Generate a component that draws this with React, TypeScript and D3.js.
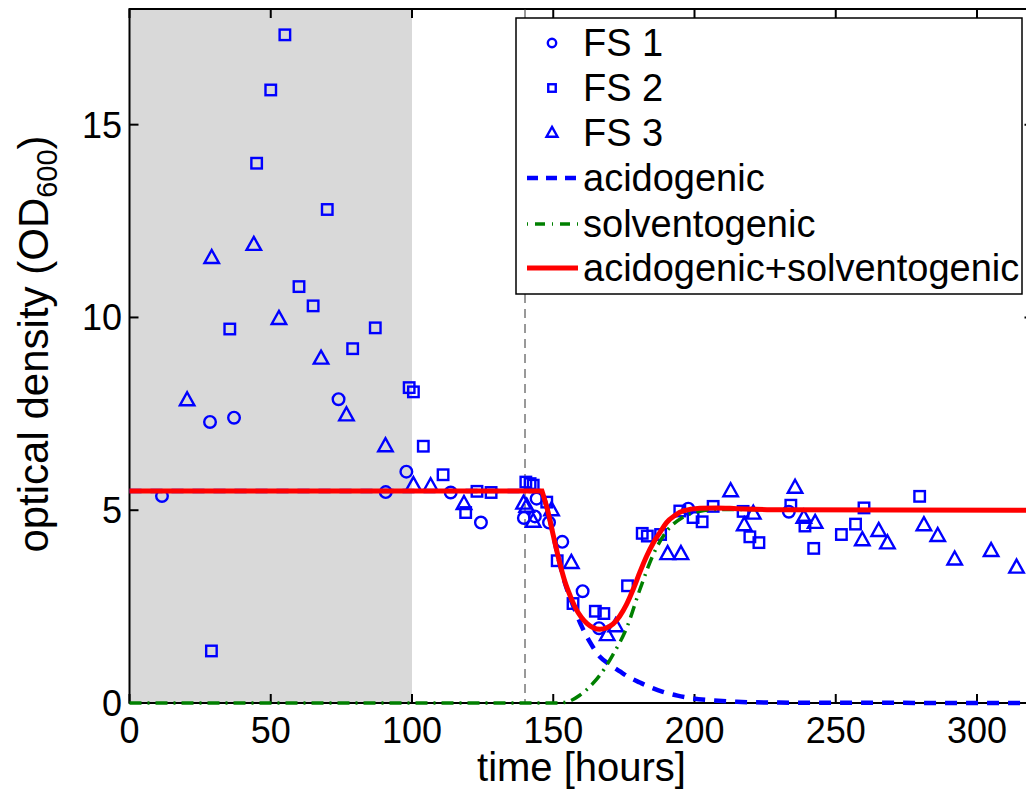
import React from "react";
import * as d3 from "d3";

// ---- data ----
const fs1Time = [11.5, 28.5, 37, 74, 90.7, 98, 113.7, 124.4, 139.6, 143.5, 144.1, 148.5, 153.2, 160.4, 166.2, 197.8, 233.4];
const fs1OD = [5.37, 7.29, 7.4, 7.88, 5.47, 6.0, 5.46, 4.68, 4.8, 4.84, 5.3, 4.68, 4.18, 2.9, 1.94, 5.04, 4.96];

const fs2Time = [29, 35.5, 45, 50, 55, 60, 65, 70, 79, 87, 99, 100.5, 104, 111, 119, 123, 128, 140.3, 141.8, 142.9, 147.7, 151.4, 157, 164.9, 167.9, 176.3, 181.5, 183.3, 188, 194.8, 199.5, 202.7, 206.6, 217.2, 219.6, 222.8, 234.1, 239.1, 242.2, 252, 257, 260, 279.7];
const fs2OD = [1.35, 9.7, 14.0, 15.9, 17.33, 10.8, 10.3, 12.8, 9.19, 9.73, 8.18, 8.07, 6.66, 5.92, 4.94, 5.49, 5.46, 5.73, 5.69, 5.65, 5.21, 3.69, 2.58, 2.38, 2.32, 3.04, 4.4, 4.33, 4.37, 4.98, 4.81, 4.7, 5.1, 4.97, 4.31, 4.16, 5.13, 4.59, 4.01, 4.37, 4.64, 5.06, 5.36];

const fs3Time = [20.4, 29.1, 44, 52.9, 67.8, 76.8, 90.6, 100.5, 106.6, 118.4, 139.5, 140.6, 142.9, 149.4, 156.4, 169.1, 172.1, 190.5, 195.2, 212.8, 217.6, 220.8, 235.6, 238.7, 242.7, 259.4, 265.2, 268.3, 281.2, 286.1, 292.1, 305, 314];
const fs3OD = [7.85, 11.54, 11.88, 9.96, 8.93, 7.46, 6.66, 5.65, 5.62, 5.16, 5.17, 5.09, 4.7, 5.0, 3.63, 1.76, 1.99, 3.86, 3.86, 5.49, 4.61, 4.91, 5.58, 4.8, 4.67, 4.22, 4.46, 4.14, 4.61, 4.33, 3.72, 3.94, 3.51];

const acidTime = [0, 146, 148, 150, 152, 154, 156, 158, 160, 163, 166.5, 170, 173.6, 177, 180.7, 185, 188.8, 194, 199.4, 206.5, 215, 230, 320];
const acidOD = [5.5, 5.5, 5.0, 4.35, 3.7, 3.15, 2.72, 2.35, 2.0, 1.58, 1.2, 1.0, 0.82, 0.66, 0.53, 0.39, 0.29, 0.19, 0.12, 0.07, 0.03, 0.01, 0];

const solvTime = [0, 152, 155, 159.4, 163, 166.5, 171.1, 176, 180.7, 185.4, 190.1, 195.9, 201.9, 208, 215, 230, 320];
const solvOD = [0, 0, 0.03, 0.2, 0.43, 0.72, 1.25, 1.95, 2.95, 3.85, 4.45, 4.82, 4.97, 5.02, 5.02, 5.0, 5.0];

const sumTime = [0, 146, 148, 150, 152, 154, 156, 158, 160, 162, 164, 166.5, 169, 171.2, 173.5, 175.9, 178.3, 180.7, 183, 185.4, 188, 190.1, 193, 196, 201.9, 207.8, 215, 230, 320];
const sumOD = [5.5, 5.5, 5.0, 4.35, 3.72, 3.18, 2.78, 2.45, 2.22, 2.06, 1.96, 1.91, 1.95, 2.05, 2.25, 2.55, 2.95, 3.4, 3.8, 4.15, 4.45, 4.68, 4.86, 4.98, 5.05, 5.06, 5.04, 5.01, 5.0];

const xTicks = [0, 50, 100, 150, 200, 250, 300];
const yTicks = [0, 5, 10, 15];
const shadeRange = [0, 100];
const switchTime = 140;

const legendLabels = ["FS 1", "FS 2", "FS 3", "acidogenic", "solventogenic", "acidogenic+solventogenic"];

const W = 1026;
const H = 792;
const FONT = "'Liberation Sans', Arial, Helvetica, sans-serif";
const BLUE = "#0000ff";

export default function App() {
  const x = d3.scaleLinear().domain([0, 320]).range([129.5, 1033.5]);
  const y = d3.scaleLinear().domain([0, 18]).range([703, 9]);
  const left = x(0), right = x(320), top = y(18), bottom = y(0);

  // flat plateau drawn straight, then the rest with a monotone curve (keeps the sharp corner)
  const line = (ts: number[], vs: number[]) => {
    const lin = d3.line<number>().x((_, i) => x(ts[i])).y((v) => y(v))(vs.slice(0, 2)) || "";
    const ts2 = ts.slice(1);
    const mono = d3.line<number>().x((_, i) => x(ts2[i])).y((v) => y(v)).curve(d3.curveMonotoneX)(vs.slice(1)) || "";
    return lin + mono.replace(/^M/, "L");
  };

  const tri = (cx: number, cy: number, s: number) => {
    const h = s * 0.9;
    return `M${cx},${cy - h * 0.62} L${cx + s / 2},${cy + h * 0.38} L${cx - s / 2},${cy + h * 0.38} Z`;
  };

  const marker = (kind: number, cx: number, cy: number, big: boolean, key: string) => {
    const sw = 2.4;
    if (kind === 0) return <circle key={key} cx={cx} cy={cy} r={big ? 5.8 : 4.2} fill="none" stroke={BLUE} strokeWidth={sw} />;
    if (kind === 1) {
      const s = big ? 10.5 : 7.5;
      return <rect key={key} x={cx - s / 2} y={cy - s / 2} width={s} height={s} fill="none" stroke={BLUE} strokeWidth={sw} />;
    }
    return <path key={key} d={tri(cx, cy, big ? 14.5 : 11)} fill="none" stroke={BLUE} strokeWidth={sw} strokeLinejoin="miter" />;
  };

  const lg = { x: 516, y: 18, w: 506, h: 276 };
  const rowY = [43, 88, 133, 178, 224, 268];

  return (
    <svg width={W} height={H} style={{ position: "absolute", left: 0, top: 0, background: "#fff" }} fontFamily={FONT}>
      <defs>
        <clipPath id="plotclip">
          <rect x={left - 3} y={top - 3} width={right - left + 6} height={bottom - top + 6} />
        </clipPath>
      </defs>
      <rect x={0} y={0} width={W} height={H} fill="#fff" />
      <rect x={x(shadeRange[0])} y={top} width={x(shadeRange[1]) - x(shadeRange[0])} height={bottom - top} fill="#d9d9d9" />
      {/* axes box */}
      <rect x={left} y={top} width={right - left} height={bottom - top} fill="none" stroke="#000" strokeWidth={2} />
      {xTicks.map((t) => (
        <g key={"xt" + t}>
          <line x1={x(t)} x2={x(t)} y1={bottom} y2={bottom - 9} stroke="#000" strokeWidth={2} />
          <line x1={x(t)} x2={x(t)} y1={top} y2={top + 9} stroke="#000" strokeWidth={2} />
          <text x={x(t)} y={743} fontSize={36} textAnchor="middle" fill="#000">{t}</text>
        </g>
      ))}
      {yTicks.map((t) => (
        <g key={"yt" + t}>
          <line x1={left} x2={left + 9} y1={y(t)} y2={y(t)} stroke="#000" strokeWidth={2} />
          <line x1={right} x2={right - 9} y1={y(t)} y2={y(t)} stroke="#000" strokeWidth={2} />
          <text x={122} y={y(t) + 13} fontSize={36} textAnchor="end" fill="#000">{t}</text>
        </g>
      ))}
      <g clipPath="url(#plotclip)">
        <line x1={x(switchTime)} x2={x(switchTime)} y1={top} y2={bottom} stroke="#333" strokeWidth={1} strokeDasharray="9,6" />
        {fs1Time.map((t, i) => marker(0, x(t), y(fs1OD[i]), true, "a" + i))}
        {fs2Time.map((t, i) => marker(1, x(t), y(fs2OD[i]), true, "b" + i))}
        {fs3Time.map((t, i) => marker(2, x(t), y(fs3OD[i]), true, "c" + i))}
        <path d={line(acidTime, acidOD)} fill="none" stroke={BLUE} strokeWidth={4.5} strokeDasharray="12,9" />
        <path d={line(solvTime, solvOD)} fill="none" stroke="#008000" strokeWidth={3.5} strokeDasharray="12,6,2,6" />
        <path d={line(sumTime, sumOD)} fill="none" stroke="#ff0000" strokeWidth={5} />
      </g>
      <text x={(left + right) / 2} y={781} fontSize={40} textAnchor="middle" fill="#000">time [hours]</text>
      <text transform={`translate(48,${(top + bottom) / 2 - 12}) rotate(-90)`} fontSize={42} textAnchor="middle" fill="#000">
        optical density (OD<tspan fontSize={29} dy={9}>600</tspan><tspan dy={-9}>)</tspan>
      </text>
      {/* legend */}
      <rect x={lg.x} y={lg.y} width={lg.w} height={lg.h} fill="#fff" stroke="#000" strokeWidth={1.5} />
      {legendLabels.map((lab, i) => (
        <g key={"lg" + i}>
          {i < 3 ? marker(i, 552, rowY[i], false, "lm" + i) : null}
          {i === 3 ? <line x1={527} x2={578} y1={rowY[i]} y2={rowY[i]} stroke={BLUE} strokeWidth={4.5} strokeDasharray="11,8" /> : null}
          {i === 4 ? <line x1={527} x2={578} y1={rowY[i]} y2={rowY[i]} stroke="#008000" strokeWidth={3.5} strokeDasharray="1,7,10,7" /> : null}
          {i === 5 ? <line x1={527} x2={578} y1={rowY[i]} y2={rowY[i]} stroke="#ff0000" strokeWidth={5} /> : null}
          <text x={583} y={rowY[i] + 13} fontSize={38} fill="#000">{lab}</text>
        </g>
      ))}
    </svg>
  );
}
